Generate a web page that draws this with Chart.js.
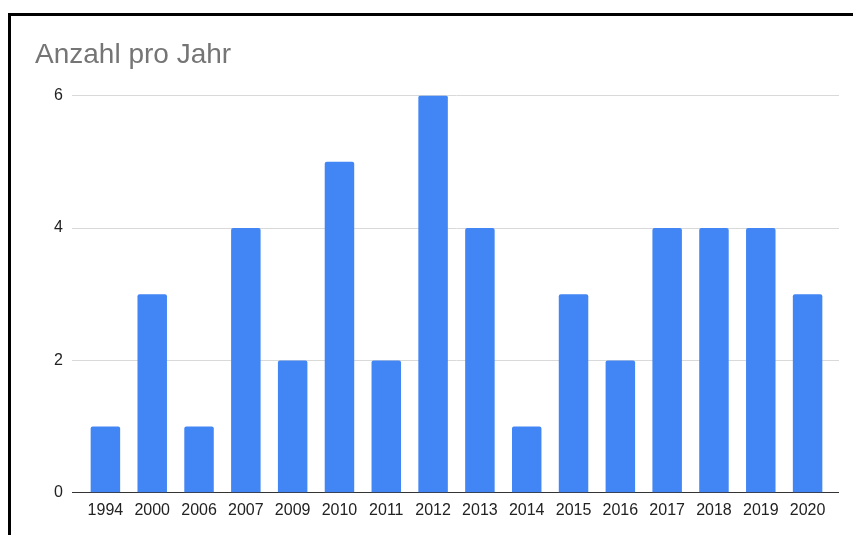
<!DOCTYPE html>
<html>
<head>
<meta charset="utf-8">
<script src="https://cdn.jsdelivr.net/npm/chart.js@4"></script>
<style>
  body { margin: 0; background: #fff; }
  #wrap { position: relative; width: 853px; height: 535px; overflow: hidden; }
  #frame { position: absolute; left: 8px; top: 13px; width: 900px; height: 600px;
           border-left: 3px solid #000; border-top: 3px solid #000; pointer-events: none; }
</style>
</head>
<body>
<div id="wrap">
  <canvas id="myChart"></canvas>
  <div id="frame"></div>
</div>
<script>
// data
const years = ['1994', '2000', '2006', '2007', '2009', '2010', '2011', '2012',
               '2013', '2014', '2015', '2016', '2017', '2018', '2019', '2020'];
const counts = [1, 3, 1, 4, 2, 5, 2, 6, 4, 1, 3, 2, 4, 4, 4, 3];
const yTicks = [0, 2, 4, 6];

const gridColor = ctx => ctx.tick && ctx.tick.value === 0 ? '#333333' : '#d9d9d9';

const config = {
    type: 'bar',
    data: {
        labels: years,
        datasets: [{
            label: 'Anzahl',
            data: counts,
            backgroundColor: '#4285F4',
            borderRadius: 2,
            borderSkipped: 'bottom',
            barPercentage: 0.63,
            categoryPercentage: 1,
        }]
    },
    options: {
        responsive: true,
        maintainAspectRatio: false,
        animation: false,
        layout: {
            padding: { left: 35, right: 14, top: 20, bottom: 7 }
        },
        plugins: {
            legend: { display: false },
            tooltip: { enabled: false },
            title: {
                display: true,
                text: 'Anzahl pro Jahr',
                align: 'start',
                color: '#757575',
                font: { family: 'Liberation Sans', size: 28, weight: 'normal' },
                padding: { top: 18, bottom: 24 }
            }
        },
        scales: {
            x: {
                z: 1,
                grid: { display: false, drawTicks: false },
                border: { display: true, color: '#333333', width: 1 },
                ticks: {
                    color: '#222222',
                    padding: 8,
                    maxRotation: 0,
                    autoSkip: false,
                    font: { family: 'Liberation Sans', size: 16 }
                }
            },
            y: {
                min: yTicks[0],
                max: yTicks[yTicks.length - 1],
                afterFit: s => { s.width = 47 },
                afterBuildTicks: s => { s.ticks = yTicks.map(v => ({ value: v })) },
                border: { display: false },
                grid: { color: gridColor, tickColor: gridColor, tickLength: 10 },
                ticks: {
                    color: '#222222',
                    padding: 9,
                    font: { family: 'Liberation Sans', size: 16 }
                }
            },
            // only used to stretch the grid lines a little past the last bar
            yRight: {
                position: 'right',
                min: yTicks[0],
                max: yTicks[yTicks.length - 1],
                afterFit: s => { s.width = 8 },
                afterBuildTicks: s => { s.ticks = yTicks.map(v => ({ value: v })) },
                border: { display: false },
                grid: { drawOnChartArea: false, color: gridColor, tickColor: gridColor, tickLength: 8 },
                ticks: { display: false }
            }
        }
    }
};

const ctx = document.getElementById('myChart');
const myChart = new Chart(ctx, config);
</script>
</body>
</html>
